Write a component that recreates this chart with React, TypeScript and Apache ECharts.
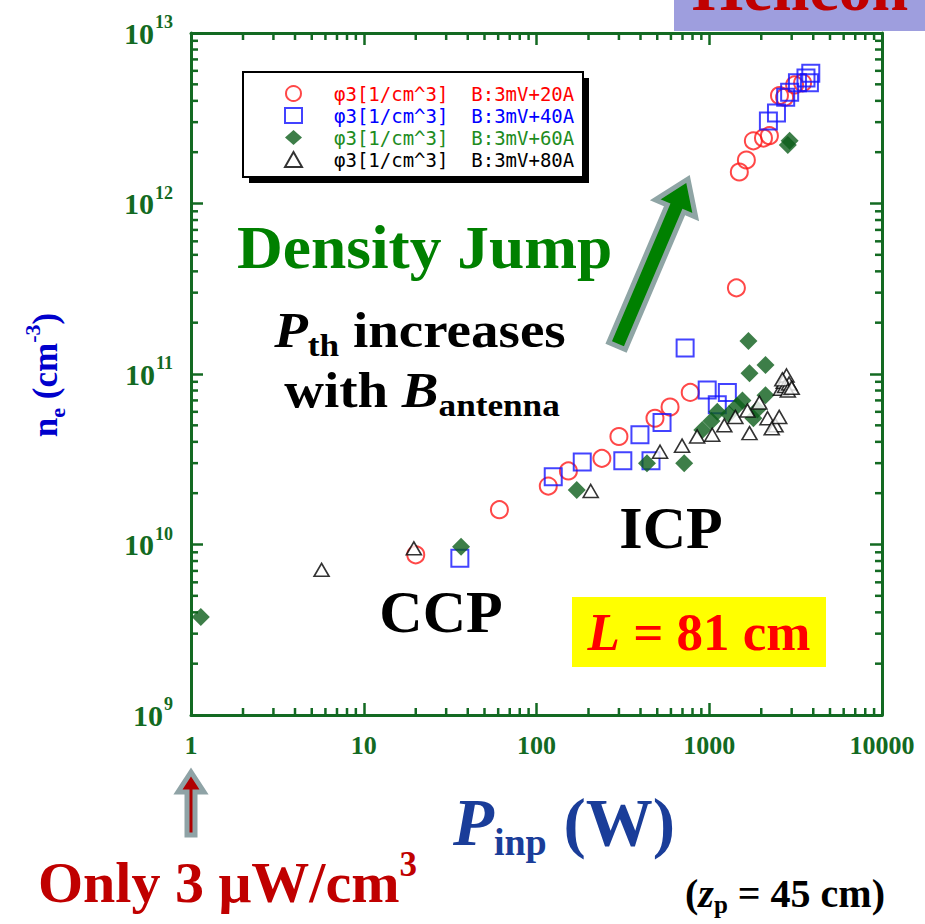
import React, { useEffect, useRef } from 'react';
import * as echarts from 'echarts';

// ---------- data ----------
const X_TICKS = [1, 10, 100, 1000, 10000];
const Y_TICKS = [1e9, 1e10, 1e11, 1e12, 1e13];
const MINOR_MULTIPLIERS = [2, 3, 4, 5, 6, 7, 8, 9];

const SERIES_NAMES = [
  'φ3[1/cm^3]  B:3mV+20A',
  'φ3[1/cm^3]  B:3mV+40A',
  'φ3[1/cm^3]  B:3mV+60A',
  'φ3[1/cm^3]  B:3mV+80A',
];

const red20A: [number, number][] = [
  [20, 8.7e9], [61, 1.6e10], [117, 2.2e10], [153, 2.7e10], [239, 3.2e10],
  [300, 4.3e10], [485, 5.5e10], [593, 6.4e10], [776, 7.8e10], [1436, 3.2e11],
  [1493, 1.53e12], [1640, 1.8e12], [1800, 2.33e12], [2060, 2.42e12], [2230, 2.5e12],
  [2550, 4.3e12], [2730, 4.2e12], [3120, 4.96e12], [3470, 5.1e12],
];

const blue40A: [number, number][] = [
  [36, 8.3e9], [125, 2.5e10], [184, 3.05e10], [316, 3.1e10], [460, 3.1e10],
  [397, 4.4e10], [533, 5.2e10], [725, 1.42e11], [973, 8.05e10], [1273, 7.8e10],
  [1113, 6.6e10], [2200, 3.05e12], [2450, 3.4e12], [2770, 4.2e12], [2920, 4.5e12],
  [3240, 5.1e12], [3630, 5.45e12], [3870, 5.8e12], [3800, 5.1e12],
];

const green60A: [number, number][] = [
  [1.14, 3.76e9], [36.6, 9.7e9], [171, 2.09e10], [436, 3.0e10], [716, 3.0e10],
  [912, 4.7e10], [1030, 5.3e10], [1113, 6.0e10], [1300, 5.8e10], [1450, 6.5e10],
  [1556, 7.0e10], [1800, 5.5e10], [1900, 6.2e10], [2117, 7.5e10], [1710, 1.01e11],
  [2117, 1.13e11], [1686, 1.56e11], [2920, 2.33e12], [2850, 2.2e12],
];

const black80A: [number, number][] = [
  [5.7, 7.1e9], [19.5, 9.5e9], [206, 2.06e10], [519, 3.5e10], [696, 3.8e10],
  [851, 4.3e10], [1040, 4.4e10], [1222, 5.0e10], [1416, 5.6e10], [1663, 6.1e10],
  [1950, 6.8e10], [1710, 4.5e10], [2175, 5.5e10], [2420, 5.0e10], [2540, 5.6e10],
  [2300, 4.8e10], [2600, 8.2e10], [2700, 9.0e10], [2800, 9.8e10], [2750, 8.5e10],
  [2900, 8.8e10], [2650, 9.3e10], [2850, 8.0e10], [3000, 8.3e10],
];

// ---------- styling ----------
const AXIS_GREEN = '#136a22';
const SERIF = "'Liberation Serif', 'Times New Roman', serif";
const MAJOR_LEN = 12;
const MINOR_LEN = 7;

function arrowPoints(tx: number, ty: number, hx: number, hy: number, w: number, hw: number, hl: number) {
  const dx = hx - tx, dy = hy - ty;
  const L = Math.hypot(dx, dy);
  const ux = dx / L, uy = dy / L;
  const nx = -uy, ny = ux;
  const bx = hx - ux * hl, by = hy - uy * hl;
  return [
    [tx + nx * w, ty + ny * w],
    [bx + nx * w, by + ny * w],
    [bx + nx * hw, by + ny * hw],
    [hx, hy],
    [bx - nx * hw, by - ny * hw],
    [bx - nx * w, by - ny * w],
    [tx - nx * w, ty - ny * w],
  ];
}

export default function App() {
  const ref = useRef<HTMLDivElement>(null);

  useEffect(() => {
    document.body.style.margin = '0';
    const chart = echarts.init(ref.current!, null, { renderer: 'svg' });

    const xMin = X_TICKS[0], xMax = X_TICKS[X_TICKS.length - 1];
    const yMin = Y_TICKS[0], yMax = Y_TICKS[Y_TICKS.length - 1];
    const minorX = X_TICKS.slice(0, -1).flatMap((d) => MINOR_MULTIPLIERS.map((m) => d * m));
    const minorY = Y_TICKS.slice(0, -1).flatMap((d) => MINOR_MULTIPLIERS.map((m) => d * m));

    const tickLine = { lineStyle: { color: AXIS_GREEN, width: 2.5 } };
    const axisLine = { show: true, onZero: false, lineStyle: { color: AXIS_GREEN, width: 3 } };

    const option: any = {
      animation: false,
      backgroundColor: '#ffffff',
      grid: { left: 191, right: 43, top: 33, bottom: 209 },
      legend: {
        data: SERIES_NAMES.map((name, i) => ({
          name,
          textStyle: { color: ['#ff0000', '#0000ff', '#1e8c1e', '#000000'][i] },
        })),
        orient: 'vertical',
        left: 284,
        top: 84,
        padding: 0,
        itemGap: 3,
        itemWidth: 17,
        itemHeight: 15,
        selectedMode: false,
        formatter: (name: string) => `{g|}${name}`,
        textStyle: {
          fontFamily: "'DejaVu Sans Mono', monospace",
          fontSize: 19,
          rich: { g: { width: 27 } },
        },
      },
      xAxis: [
        {
          type: 'log', logBase: 10, min: xMin, max: xMax, position: 'bottom',
          axisLine,
          axisTick: { show: true, inside: true, length: MAJOR_LEN, ...tickLine },
          splitLine: { show: false },
          axisLabel: {
            margin: 17,
            formatter: (v: number) => String(Math.round(v)),
            fontFamily: SERIF, fontWeight: 'bold', fontSize: 26, color: AXIS_GREEN,
          },
        },
        {
          type: 'log', logBase: 10, min: xMin, max: xMax, position: 'top',
          axisLine,
          axisTick: { show: true, inside: true, length: MAJOR_LEN, ...tickLine },
          splitLine: { show: false },
          axisLabel: { show: false },
        },
      ],
      yAxis: [
        {
          type: 'log', logBase: 10, min: yMin, max: yMax, position: 'left',
          axisLine,
          axisTick: { show: true, inside: true, length: MAJOR_LEN, ...tickLine },
          splitLine: { show: false },
          axisLabel: {
            margin: 18,
            formatter: (v: number) => `{b|10}{s|${Math.round(Math.log10(v))}}`,
            rich: {
              b: { fontFamily: SERIF, fontWeight: 'bold', fontSize: 30, color: AXIS_GREEN },
              s: { fontFamily: SERIF, fontWeight: 'bold', fontSize: 18, color: AXIS_GREEN, padding: [0, 0, 22, 1] },
            },
          },
        },
        {
          type: 'log', logBase: 10, min: yMin, max: yMax, position: 'right',
          axisLine,
          axisTick: { show: true, inside: true, length: MAJOR_LEN, ...tickLine },
          splitLine: { show: false },
          axisLabel: { show: false },
        },
      ],
      series: [
        {
          type: 'custom', silent: true, xAxisIndex: 0, yAxisIndex: 0, z: 1,
          data: minorX.map((v) => [v, yMin]),
          renderItem: (_p: any, api: any) => {
            const v = api.value(0);
            const b = api.coord([v, yMin]);
            const t = api.coord([v, yMax]);
            const st = { stroke: AXIS_GREEN, lineWidth: 2.5 };
            return {
              type: 'group',
              children: [
                { type: 'line', shape: { x1: b[0], y1: b[1], x2: b[0], y2: b[1] - MINOR_LEN }, style: st },
                { type: 'line', shape: { x1: t[0], y1: t[1], x2: t[0], y2: t[1] + MINOR_LEN }, style: st },
              ],
            };
          },
        },
        {
          type: 'custom', silent: true, xAxisIndex: 0, yAxisIndex: 0, z: 1,
          data: minorY.map((v) => [xMin, v]),
          renderItem: (_p: any, api: any) => {
            const v = api.value(1);
            const l = api.coord([xMin, v]);
            const r = api.coord([xMax, v]);
            const st = { stroke: AXIS_GREEN, lineWidth: 2.5 };
            return {
              type: 'group',
              children: [
                { type: 'line', shape: { x1: l[0], y1: l[1], x2: l[0] + MINOR_LEN, y2: l[1] }, style: st },
                { type: 'line', shape: { x1: r[0], y1: r[1], x2: r[0] - MINOR_LEN, y2: r[1] }, style: st },
              ],
            };
          },
        },
        {
          name: SERIES_NAMES[0], type: 'scatter', data: red20A, symbol: 'circle', symbolSize: 17, z: 3,
          itemStyle: { color: 'rgba(255,255,255,0)', borderColor: '#ff1a1a', borderWidth: 2 },
        },
        {
          name: SERIES_NAMES[1], type: 'scatter', data: blue40A, symbol: 'rect', symbolSize: 17, z: 3,
          itemStyle: { color: 'rgba(255,255,255,0)', borderColor: '#1414ff', borderWidth: 2 },
        },
        {
          name: SERIES_NAMES[2], type: 'scatter', data: green60A, symbol: 'diamond', symbolSize: 18, z: 3,
          itemStyle: { color: '#0c5e1a' },
        },
        {
          name: SERIES_NAMES[3], type: 'scatter', data: black80A, symbol: 'triangle', symbolSize: [15, 13], z: 3,
          itemStyle: { color: '#ffffff', borderColor: '#000000', borderWidth: 1.6 },
        },
      ],
      graphic: [
        // Helicon banner (cut off by the top edge, as in the original slide)
        { type: 'rect', shape: { x: 674, y: 0, width: 251, height: 31 }, style: { fill: '#9e9ede' }, z: 10 },
        {
          type: 'text', x: 692, y: -13, z: 11,
          style: { text: 'Helicon', font: `bold 66px ${SERIF}`, fill: '#c00000', verticalAlign: 'middle' },
        },
        // legend box
        { type: 'rect', shape: { x: 249, y: 78, width: 340, height: 105 }, style: { fill: '#000000' }, z: 0 },
        { type: 'rect', shape: { x: 243, y: 72, width: 340, height: 105 }, style: { fill: '#ffffff', stroke: '#000000', lineWidth: 2 }, z: 0 },
        // Density Jump
        {
          type: 'text', x: 237, y: 247, z: 10, scaleX: 1.04,
          style: { text: 'Density Jump', font: `bold 61px ${SERIF}`, fill: '#008000', verticalAlign: 'middle' },
        },
        // P_th increases
        {
          type: 'text', x: 420, y: 330, z: 10, scaleX: 1.1,
          style: {
            text: '{p|P}{sub|th}{r| increases}', align: 'center', verticalAlign: 'middle',
            rich: {
              p: { font: `italic bold 50px ${SERIF}`, fill: '#000' },
              sub: { font: `bold 32px ${SERIF}`, fill: '#000', padding: [30, 0, 0, 0] },
              r: { font: `bold 50px ${SERIF}`, fill: '#000' },
            },
          },
        },
        {
          type: 'text', x: 422, y: 390, z: 10, scaleX: 1.1,
          style: {
            text: '{r|with }{p|B}{sub|antenna}', align: 'center', verticalAlign: 'middle',
            rich: {
              p: { font: `italic bold 50px ${SERIF}`, fill: '#000' },
              sub: { font: `bold 32px ${SERIF}`, fill: '#000', padding: [30, 0, 0, 0] },
              r: { font: `bold 50px ${SERIF}`, fill: '#000' },
            },
          },
        },
        // CCP / ICP
        {
          type: 'text', x: 441, y: 612, z: 10,
          style: { text: 'CCP', font: `bold 60px ${SERIF}`, fill: '#000', align: 'center', verticalAlign: 'middle' },
        },
        {
          type: 'text', x: 671, y: 528, z: 10,
          style: { text: 'ICP', font: `bold 60px ${SERIF}`, fill: '#000', align: 'center', verticalAlign: 'middle' },
        },
        // L = 81 cm
        { type: 'rect', shape: { x: 572, y: 597, width: 254, height: 70 }, style: { fill: '#ffff00' }, z: 9 },
        {
          type: 'text', x: 699, y: 632, z: 10,
          style: {
            text: '{l|L}{r| = 81 cm}', align: 'center', verticalAlign: 'middle',
            rich: {
              l: { font: `italic bold 53px ${SERIF}`, fill: '#ff0000' },
              r: { font: `bold 53px ${SERIF}`, fill: '#ff0000' },
            },
          },
        },
        // green arrow
        {
          type: 'polygon', z: 10,
          shape: { points: arrowPoints(617, 346, 688, 179, 9, 22, 32) },
          style: { fill: '#008000', stroke: '#8fa5a5', lineWidth: 5, lineJoin: 'miter' },
        },
        // red arrow at bottom
        {
          type: 'polygon', z: 10,
          shape: { points: arrowPoints(191, 835, 191, 772, 4, 13, 20) },
          style: { fill: '#b00000', stroke: '#8fa3a6', lineWidth: 5, lineJoin: 'miter' },
        },
        // Only 3 uW/cm3
        {
          type: 'text', x: 38, y: 882, z: 10,
          style: {
            text: '{a|Only 3 μW/cm}{s|3}', verticalAlign: 'middle',
            rich: {
              a: { font: `bold 58px ${SERIF}`, fill: '#c00000' },
              s: { font: `bold 35px ${SERIF}`, fill: '#c00000', padding: [0, 0, 36, 0] },
            },
          },
        },
        // (z_p = 45 cm)
        {
          type: 'text', x: 785, y: 893, z: 10,
          style: {
            text: '{a|(}{z|z}{sub|p}{a| = 45 cm)}', align: 'center', verticalAlign: 'middle',
            rich: {
              a: { font: `bold 40px ${SERIF}`, fill: '#000' },
              z: { font: `italic bold 40px ${SERIF}`, fill: '#000' },
              sub: { font: `bold 25px ${SERIF}`, fill: '#000', padding: [22, 0, 0, 0] },
            },
          },
        },
        // X axis title
        {
          type: 'text', x: 564, y: 822, z: 10,
          style: {
            text: '{P|P}{sub|inp}{w| (W)}', align: 'center', verticalAlign: 'middle',
            rich: {
              P: { font: `italic bold 67px ${SERIF}`, fill: '#1a3d99' },
              sub: { font: `bold 38px ${SERIF}`, fill: '#1a3d99', padding: [40, 0, 0, 0] },
              w: { font: `bold 67px ${SERIF}`, fill: '#1a3d99' },
            },
          },
        },
        // Y axis title
        {
          type: 'text', x: 45, y: 375, rotation: Math.PI / 2, z: 10,
          style: {
            text: '{n|n}{e|e}{p| (cm}{s|-3}{p|)}', align: 'center', verticalAlign: 'middle',
            rich: {
              n: { font: `bold 35px ${SERIF}`, fill: '#0000cc' },
              e: { font: `bold 22px ${SERIF}`, fill: '#0000cc', padding: [24, 0, 0, 0] },
              p: { font: `bold 35px ${SERIF}`, fill: '#0000cc' },
              s: { font: `bold 22px ${SERIF}`, fill: '#0000cc', padding: [0, 0, 26, 0] },
            },
          },
        },
      ],
    };

    chart.setOption(option);
    return () => chart.dispose();
  }, []);

  return <div ref={ref} style={{ width: 925, height: 924 }} />;
}
